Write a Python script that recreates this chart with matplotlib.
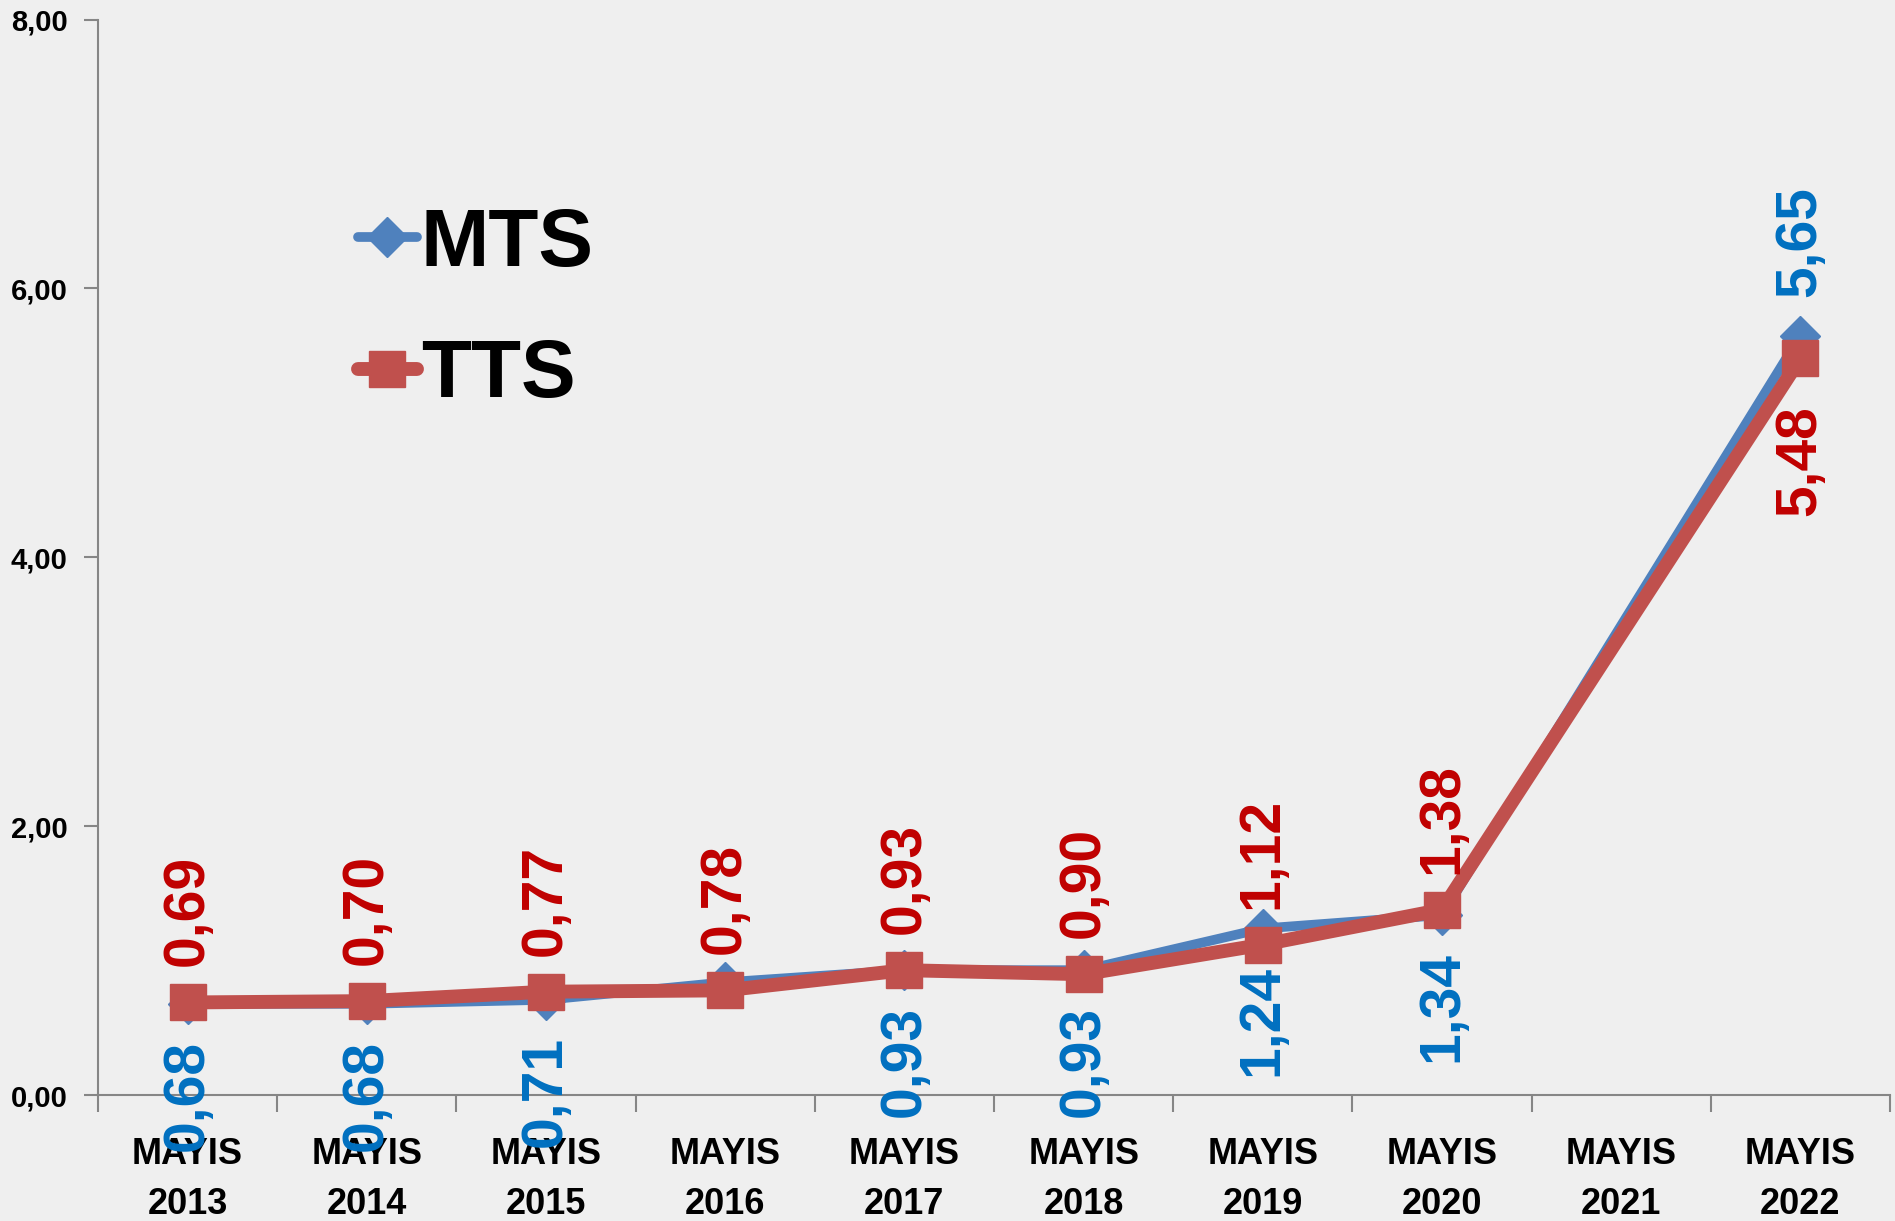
import numpy as np
import matplotlib
matplotlib.use("Agg")
import matplotlib.pyplot as plt
from matplotlib.ticker import FixedLocator

# ------------------------------------------------------
# Données
# ------------------------------------------------------
categories = ["MAYIS\n2013", "MAYIS\n2014", "MAYIS\n2015", "MAYIS\n2016", "MAYIS\n2017",
              "MAYIS\n2018", "MAYIS\n2019", "MAYIS\n2020", "MAYIS\n2021", "MAYIS\n2022"]
mts = [0.68, 0.68, 0.71, 0.84, 0.93, 0.93, 1.24, 1.34, None, 5.65]
tts = [0.69, 0.70, 0.77, 0.78, 0.93, 0.90, 1.12, 1.38, None, 5.48]
mts_labels = ["0,68", "0,68", "0,71", "", "0,93", "0,93", "1,24", "1,34", "", "5,65"]
tts_labels = ["0,69", "0,70", "0,77", "0,78", "0,93", "0,90", "1,12", "1,38", "", "5,48"]
yticks = [0, 2, 4, 6, 8]
ytick_labels = ["0,00", "2,00", "4,00", "6,00", "8,00"]

BLUE = "#4F81BD"
RED = "#C0504D"
BLUE_TXT = "#0070C0"
RED_TXT = "#C00000"
FONT = ["Liberation Sans", "DejaVu Sans"]

fig = plt.figure(figsize=(18.95, 12.21), dpi=100)
fig.patch.set_facecolor("#EFEFEF")
ax = fig.add_axes([0.0517, 0.103, 0.9457, 0.881])
ax.set_facecolor("none")

# points présents (2021 manquant -> ligne reliée)
x_m = [i for i, v in enumerate(mts) if v is not None]
y_m = [v for v in mts if v is not None]
x_t = [i for i, v in enumerate(tts) if v is not None]
y_t = [v for v in tts if v is not None]

ax.plot(x_m, y_m, color=BLUE, lw=7, marker="D", markersize=20,
        solid_joinstyle="round", solid_capstyle="round", label="MTS", zorder=3)
ax.plot(x_t, y_t, color=RED, lw=10, marker="s", markersize=26,
        solid_joinstyle="round", solid_capstyle="round", label="TTS", zorder=4)

# étiquettes de données
for i in range(len(categories)):
    if mts[i] is None:
        continue
    above_m = i == len(categories) - 1
    if mts_labels[i]:
        ax.annotate(mts_labels[i], (i, mts[i]), xytext=(0, 28 if above_m else -26),
                    textcoords="offset points", rotation=90, ha="center",
                    va="bottom" if above_m else "top", color=BLUE_TXT,
                    fontsize=41, fontweight="bold", family=FONT, zorder=5)
    if tts_labels[i]:
        ax.annotate(tts_labels[i], (i, tts[i]), xytext=(0, -34 if above_m else 26),
                    textcoords="offset points", rotation=90, ha="center",
                    va="top" if above_m else "bottom", color=RED_TXT,
                    fontsize=41, fontweight="bold", family=FONT, zorder=5)

# axes
ax.set_xlim(-0.5, len(categories) - 0.5)
ax.set_ylim(0, 8)
ax.set_xticks(range(len(categories)))
ax.set_xticklabels(categories, fontsize=26, fontweight="bold", family=FONT, linespacing=1.55)
ax.xaxis.set_minor_locator(FixedLocator(np.arange(-0.5, len(categories), 1)))
ax.tick_params(axis="x", which="major", length=0, pad=30)
ax.tick_params(axis="x", which="minor", length=12, width=1.5, color="#868686")
ax.set_yticks(yticks)
ax.set_yticklabels(ytick_labels, fontsize=21, fontweight="bold", family=FONT)
ax.tick_params(axis="y", length=10, width=1.5, color="#868686", pad=12)

for s in ["top", "right"]:
    ax.spines[s].set_visible(False)
for s in ["left", "bottom"]:
    ax.spines[s].set_color("#868686")
    ax.spines[s].set_linewidth(1.5)

leg = ax.legend(loc="upper left", bbox_to_anchor=(0.145, 0.826), frameon=False,
                prop={"family": FONT, "weight": "bold", "size": 59},
                handlelength=0.72, handletextpad=0.05, labelspacing=0.68,
                borderpad=0, borderaxespad=0)

fig.savefig("out.png", dpi=100, facecolor=fig.get_facecolor())
